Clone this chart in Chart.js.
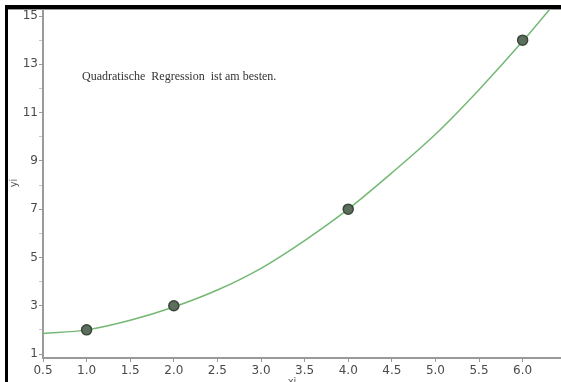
<!DOCTYPE html>
<html>
<head>
<meta charset="utf-8">
<script src="https://cdn.jsdelivr.net/npm/chart.js@4"></script>
<style>
  body { margin: 0; background: #fff; }
  #wrap { width: 561px; height: 382px; position: relative; }
</style>
</head>
<body>
<div id="wrap"><canvas id="RegChart" width="561" height="382"></canvas></div>
<script>
// measured points
var xiValues = [1, 2, 4, 6];
var yiValues = [2, 3, 7, 14];

// regression curve
var curveX = [0.5, 1.0, 1.5, 2.0, 2.5, 3.0, 3.5, 4.0, 4.5, 5.0, 5.5, 6.0, 6.5];
var curveY = [1.85, 2.0, 2.4, 2.95, 3.65, 4.55, 5.7, 7.0, 8.5, 10.1, 11.95, 13.95, 16.1];

var xTicks = [0.5, 1.0, 1.5, 2.0, 2.5, 3.0, 3.5, 4.0, 4.5, 5.0, 5.5, 6.0];
var yTicks = [1, 2, 3, 4, 5, 6, 7, 8, 9, 10, 11, 12, 13, 14, 15];
var yLabelled = [1, 3, 5, 7, 9, 11, 13, 15];

var noteText = 'Quadratische  Regression  ist am besten.';

function toPoints(xs, ys)
{
  let pts = [];
  for (let i = 0; i < xs.length; i++)
  {
    pts.push({x: xs[i], y: ys[i]});
  }
  return pts;
}

// frame, note and axis titles
var extras = {
  id: 'extras',
  afterDraw(chart) {
    const ctx = chart.ctx;
    ctx.save();
    ctx.fillStyle = '#000';
    ctx.fillRect(5, 5, 556, 4);
    ctx.fillRect(5, 5, 3, 377);
    ctx.fillStyle = '#9a9a9a';
    ctx.fillRect(8, 9, 553, 1);

    ctx.fillStyle = '#333';
    ctx.font = '12px "Liberation Serif", serif';
    ctx.textBaseline = 'alphabetic';
    ctx.fillText(noteText, 82, 80);

    ctx.fillStyle = '#555';
    ctx.font = '10px "DejaVu Sans", sans-serif';
    ctx.textAlign = 'center';
    ctx.fillText('xi', 292, 385);
    ctx.translate(17, 183);
    ctx.rotate(-Math.PI / 2);
    ctx.fillText('yi', 0, 0);
    ctx.restore();
  }
};

function LoadChart()
{
  new Chart('RegChart', {
    type: 'scatter',
    data: {
      datasets: [
        {
          data: toPoints(xiValues, yiValues),
          backgroundColor: '#5c6e5c',
          borderColor: '#3a463a',
          borderWidth: 1.5,
          pointRadius: 5,
          pointHoverRadius: 5
        },
        {
          data: toPoints(curveX, curveY),
          showLine: true,
          borderColor: '#74b874',
          borderWidth: 1.5,
          pointRadius: 0,
          cubicInterpolationMode: 'monotone'
        }
      ]
    },
    options: {
      responsive: false,
      animation: false,
      layout: { autoPadding: false, padding: { top: 9, right: 0, left: 0, bottom: 0 } },
      plugins: {
        legend: { display: false },
        tooltip: { enabled: false }
      },
      scales: {
        x: {
          type: 'linear',
          min: 0.5,
          max: 6.44,
          afterBuildTicks: (scale) => { scale.ticks = xTicks.map(v => ({value: v})); },
          afterFit: (scale) => {
            scale.height = 24;
            scale.paddingLeft = 0;
            scale.paddingRight = 0;
          },
          border: { color: '#9a9a9a', width: 2 },
          grid: { drawOnChartArea: false, tickLength: 4, color: '#9a9a9a' },
          ticks: {
            color: '#4a4a4a',
            padding: 2,
            maxRotation: 0,
            font: { family: 'DejaVu Sans', size: 12 },
            callback: (v) => v.toFixed(1)
          }
        },
        y: {
          type: 'linear',
          min: 0.835,
          max: 15.29,
          afterBuildTicks: (scale) => { scale.ticks = yTicks.map(v => ({value: v})); },
          afterFit: (scale) => {
            scale.width = 43;
            scale.paddingTop = 0;
            scale.paddingBottom = 0;
          },
          border: { color: '#9a9a9a', width: 2 },
          grid: {
            drawOnChartArea: false,
            tickLength: 4,
            color: (c) => yLabelled.includes(c.tick.value) ? '#9a9a9a' : '#c8c8c8'
          },
          ticks: {
            color: '#4a4a4a',
            padding: 1,
            font: { family: 'DejaVu Sans', size: 12 },
            callback: (v) => yLabelled.includes(v) ? String(v) : ''
          }
        }
      }
    },
    plugins: [extras]
  });
}

LoadChart();
</script>
</body>
</html>
